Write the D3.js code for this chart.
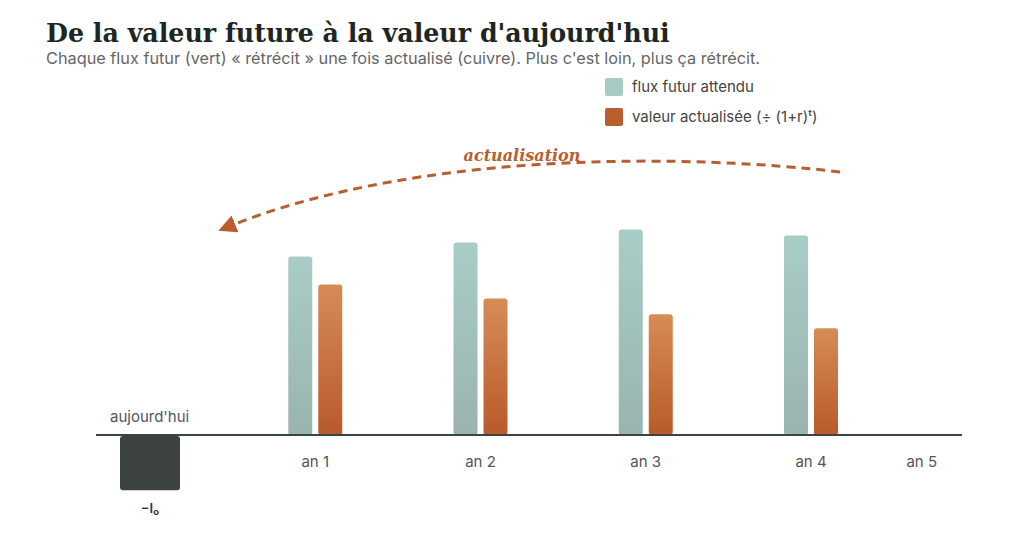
<!DOCTYPE html>
<html lang="fr">
<head>
  <meta charset="UTF-8">
  <title>De la valeur future à la valeur d'aujourd'hui</title>
  <style>
    * {box-sizing: border-box;}
    html, body { margin: 0; padding: 0; background: #fff; }
    svg { display: block; }
  </style>
</head>
<body>
  <svg id="chart"></svg>

  <script src="https://d3js.org/d3.v7.min.js"></script>
  <script>
    // valeurs (unités arbitraires)
    const years = ['an 1', 'an 2', 'an 3', 'an 4']
    const fluxFutur = [102, 110, 117.5, 114]
    const valeurActualisee = [86, 78, 69, 61]
    const investissement = -31
    const tickLabels = ['an 1', 'an 2', 'an 3', 'an 4', 'an 5']
    const tickPositions = [1, 2, 3, 4, 4.67]

    const width = 1024
    const height = 533
    const svg = d3.select('#chart').attr('width', width).attr('height', height)

    const x = d3.scaleLinear([0, 4], [150, 811])
    const y = d3.scaleLinear([0, 120], [435, 225])
    const barW = 24
    const sans = 'Inter, "Liberation Sans", sans-serif'

    const defs = svg.append('defs')
    const grad = (id, top, bottom) => {
      const g = defs.append('linearGradient').attr('id', id)
        .attr('x1', 0).attr('y1', 0).attr('x2', 0).attr('y2', 1)
      g.append('stop').attr('offset', '0%').attr('stop-color', top)
      g.append('stop').attr('offset', '100%').attr('stop-color', bottom)
    }
    grad('gVert', '#a8cdc6', '#9ab4af')
    grad('gCuivre', '#d68c56', '#b85a29')

    defs.append('marker').attr('id', 'fleche')
      .attr('viewBox', '0 0 10 10').attr('refX', 6).attr('refY', 5)
      .attr('markerWidth', 6).attr('markerHeight', 6)
      .attr('orient', 'auto')
      .append('path').attr('d', 'M0,0 L10,5 L0,10 z').attr('fill', '#b95e2e')

    // titre
    svg.append('text').attr('x', 46).attr('y', 42)
      .attr('font-family', '"DejaVu Serif", serif').attr('font-weight', 900)
      .attr('font-size', 25.3).attr('fill', '#1c2624')
      .text("De la valeur future à la valeur d'aujourd'hui")
    svg.append('text').attr('x', 46).attr('y', 64)
      .attr('font-family', sans)
      .attr('font-size', 16.3).attr('fill', '#666')
      .text('Chaque flux futur (vert) « rétrécit » une fois actualisé (cuivre). Plus c\'est loin, plus ça rétrécit.')

    // légende
    const legend = [
      {label: 'flux futur attendu', color: '#a8ccc5'},
      {label: 'valeur actualisée (÷ (1+r)ᵗ)', color: '#b95e2e'}
    ]
    const lg = svg.append('g').selectAll('g').data(legend).join('g')
      .attr('transform', (d, i) => `translate(605,${78 + i * 30})`)
    lg.append('rect').attr('width', 18).attr('height', 18).attr('rx', 2)
      .attr('fill', d => d.color)
    lg.append('text').attr('x', 27).attr('y', 14)
      .attr('font-family', sans)
      .attr('font-size', 15).attr('fill', '#444')
      .text(d => d.label)

    // flèche d'actualisation
    svg.append('path')
      .attr('d', 'M840,172 C700,155 420,148 225,228')
      .attr('fill', 'none').attr('stroke', '#b95e2e')
      .attr('stroke-width', 3).attr('stroke-dasharray', '9 6')
      .attr('marker-end', 'url(#fleche)')
    svg.append('text').attr('x', 522).attr('y', 161)
      .attr('text-anchor', 'middle')
      .attr('font-family', '"DejaVu Serif", serif').attr('font-style', 'italic')
      .attr('font-weight', 'bold')
      .attr('font-size', 16).attr('fill', '#b95e2e')
      .text('actualisation')

    // barres
    const bars = svg.append('g')
    bars.selectAll('.vert').data(fluxFutur).join('rect')
      .attr('class', 'vert')
      .attr('x', (d, i) => x(i + 1) - 15 - barW / 2)
      .attr('y', d => y(d))
      .attr('width', barW)
      .attr('height', d => y(0) - y(d))
      .attr('rx', 3)
      .attr('fill', 'url(#gVert)')
    bars.selectAll('.cuivre').data(valeurActualisee).join('rect')
      .attr('class', 'cuivre')
      .attr('x', (d, i) => x(i + 1) + 15 - barW / 2)
      .attr('y', d => y(d))
      .attr('width', barW)
      .attr('height', d => y(0) - y(d))
      .attr('rx', 3)
      .attr('fill', 'url(#gCuivre)')

    // investissement initial
    svg.append('rect')
      .attr('x', x(0) - 30).attr('y', y(0) + 1)
      .attr('width', 60).attr('height', y(investissement) - y(0))
      .attr('rx', 3).attr('fill', '#3b4240')
    svg.append('text').attr('x', x(0)).attr('y', y(investissement) + 24)
      .attr('text-anchor', 'middle')
      .attr('font-family', sans)
      .attr('font-weight', 600).attr('font-size', 13).attr('fill', '#2f3735')
      .text('−I₀')
    svg.append('text').attr('x', 110).attr('y', 422)
      .attr('font-family', sans)
      .attr('font-size', 15).attr('fill', '#555')
      .text("aujourd'hui")

    // axe
    svg.append('line').attr('x1', 96).attr('x2', 962)
      .attr('y1', y(0)).attr('y2', y(0))
      .attr('stroke', '#3a4441').attr('stroke-width', 2)
    svg.append('g').selectAll('text').data(tickLabels).join('text')
      .attr('x', (d, i) => x(tickPositions[i]))
      .attr('y', 467)
      .attr('text-anchor', 'middle')
      .attr('font-family', sans)
      .attr('font-size', 15).attr('fill', '#555')
      .text(d => d)
  </script>
</body>
</html>
